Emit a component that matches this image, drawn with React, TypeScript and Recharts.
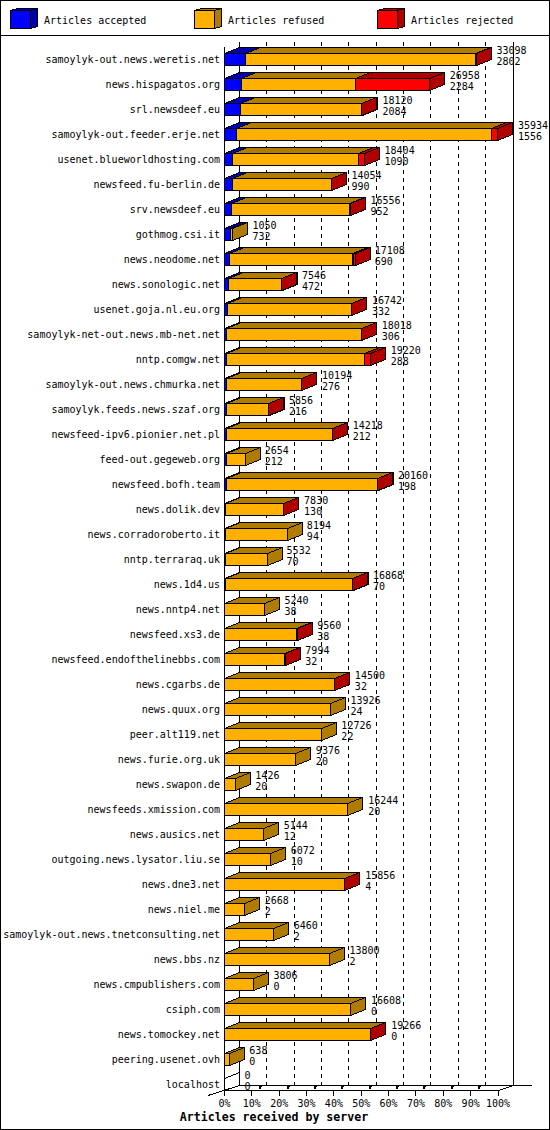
import { BarChart, Bar, XAxis, YAxis, CartesianGrid, LabelList } from "recharts";

const SERVERS = [
  "samoylyk-out.news.weretis.net", "news.hispagatos.org", "srl.newsdeef.eu", "samoylyk-out.feeder.erje.net",
  "usenet.blueworldhosting.com", "newsfeed.fu-berlin.de", "srv.newsdeef.eu", "gothmog.csi.it",
  "news.neodome.net", "news.sonologic.net", "usenet.goja.nl.eu.org", "samoylyk-net-out.news.mb-net.net",
  "nntp.comgw.net", "samoylyk-out.news.chmurka.net", "samoylyk.feeds.news.szaf.org", "newsfeed-ipv6.pionier.net.pl",
  "feed-out.gegeweb.org", "newsfeed.bofh.team", "news.dolik.dev", "news.corradoroberto.it",
  "nntp.terraraq.uk", "news.1d4.us", "news.nntp4.net", "newsfeed.xs3.de",
  "newsfeed.endofthelinebbs.com", "news.cgarbs.de", "news.quux.org", "peer.alt119.net",
  "news.furie.org.uk", "news.swapon.de", "newsfeeds.xmission.com", "news.ausics.net",
  "outgoing.news.lysator.liu.se", "news.dne3.net", "news.niel.me", "samoylyk-out.news.tnetconsulting.net",
  "news.bbs.nz", "news.cmpublishers.com", "csiph.com", "news.tomockey.net",
  "peering.usenet.ovh", "localhost",
];
const TOTALS = [
  33098, 26958, 18120, 35934, 18404, 14054, 16556, 1050, 17108, 7546, 16742, 18018, 19220, 10194,
  5856, 14218, 2654, 20160, 7830, 8194, 5532, 16868, 5240, 9560, 7994, 14500, 13926, 12726,
  9376, 1426, 16244, 5144, 6072, 15856, 2668, 6460, 13800, 3806, 16608, 19266, 638, 0,
];
const ACCEPTED = [
  2802, 2284, 2084, 1556, 1090, 990, 952, 732, 690, 472, 332, 306, 288, 276,
  216, 212, 212, 198, 130, 94, 70, 70, 38, 38, 32, 32, 24, 22,
  20, 20, 20, 12, 10, 4, 2, 2, 2, 0, 0, 0, 0, 0,
];
const REJECTED = [
  100, 9720, 60, 830, 790, 40, 100, 0, 200, 30, 60, 40, 830, 30,
  30, 30, 0, 30, 30, 0, 0, 30, 0, 30, 30, 30, 0, 0,
  0, 0, 0, 0, 0, 30, 0, 0, 0, 0, 0, 30, 0, 0,
];
const PERCENT_TICKS = [0, 10, 20, 30, 40, 50, 60, 70, 80, 90, 100];
const LEGEND_LABELS = ["Articles accepted", "Articles refused", "Articles rejected"];
const LEGEND_X = [10, 194, 377];

const MAX_TOTAL = 35934;
const FONT = "'DejaVu Sans Mono', 'Liberation Mono', monospace";
const BLUE = ["#0000ff", "#0000b0"];
const ORANGE = ["#ffb000", "#b07c00"];
const RED = ["#ff0000", "#b00000"];
const LEGEND_COLORS = [BLUE, ORANGE, RED];

const DEPTH_X = 15;
const DEPTH_Y = 6;
const FLOOR_Y = 1090.5;
const BACK_Y = 1085.5;
const TOP_Y = 42;

const rows = SERVERS.map((server, i) => ({
  server,
  total: TOTALS[i],
  accepted: ACCEPTED[i],
  refused: TOTALS[i] - ACCEPTED[i] - REJECTED[i],
  rejected: REJECTED[i],
}));

const Box3d = ({ x, y, w, h, colors, dx = DEPTH_X, dy = DEPTH_Y }: any) => (
  <g stroke="#000" strokeWidth={1} shapeRendering="crispEdges">
    <polygon points={`${x},${y} ${x + w},${y} ${x + w + dx},${y - dy} ${x + dx},${y - dy}`} fill={colors[1]} />
    <polygon points={`${x + w},${y} ${x + w + dx},${y - dy} ${x + w + dx},${y + h - dy} ${x + w},${y + h}`} fill={colors[1]} />
    <rect x={x} y={y} width={w} height={h} fill={colors[0]} />
  </g>
);

const segment = (colors: string[], keepEmpty = false) => (props: any) => {
  const x = Math.floor(props.x) + 0.5;
  const y = Math.floor(props.y) + 0.5;
  const w = Math.round(props.width);
  const h = Math.round(props.height);
  if (!props.width) {
    if (!keepEmpty) return null;
    // a server with no articles only leaves its wireframe on the wall
    return (
      <g stroke="#000" shapeRendering="crispEdges">
        <line x1={x} y1={y} x2={x + DEPTH_X} y2={y - DEPTH_Y} />
      </g>
    );
  }
  return <Box3d x={x} y={y} w={w} h={h} colors={colors} />;
};

const ValueLabel = (dy: number) => (props: any) => (
  <text
    x={props.x + props.width + DEPTH_X + 5}
    y={props.y + dy}
    fontFamily={FONT}
    fontSize={10}
    fill="#000"
    dominantBaseline="central"
  >
    {props.value}
  </text>
);

const GridLine = (props: any) => (
  <line
    x1={props.x1 + DEPTH_X}
    x2={props.x2 + DEPTH_X}
    y1={TOP_Y}
    y2={BACK_Y}
    stroke="#000"
    strokeDasharray={props.index === 0 || props.index === PERCENT_TICKS.length - 1 ? undefined : "4 4"}
    shapeRendering="crispEdges"
  />
);

const PercentTick = ({ x, payload, index }: any) => {
  const px = Math.floor(x) + 0.5;
  const inner = index > 0 && index < PERCENT_TICKS.length - 1;
  return (
    <g>
      <line x1={px} x2={px} y1={FLOOR_Y} y2={FLOOR_Y + 5} stroke="#000" shapeRendering="crispEdges" />
      {inner && (
        <polygon
          points={`${px + 7},${FLOOR_Y - 1.5} ${px + 8},${FLOOR_Y - 4.5} ${px + 10.5},${FLOOR_Y - 4.5} ${px + 9.5},${FLOOR_Y - 1.5}`}
          fill="#000"
          shapeRendering="crispEdges"
        />
      )}
      <text x={x} y={1103} textAnchor="middle" dominantBaseline="central" fontFamily={FONT} fontSize={10} fill="#000">
        {Math.round((payload.value / MAX_TOTAL) * 100)}%
      </text>
    </g>
  );
};

const crisp = { stroke: "#000", shapeRendering: "crispEdges" as const };

export default function App() {
  return (
    <div style={{ position: "absolute", left: 0, top: 0, width: 550, height: 1130, background: "#fff" }}>
      <BarChart
        width={550}
        height={1130}
        data={rows}
        layout="vertical"
        barSize={12}
        margin={{ top: 46.5, right: 52, bottom: 3.5, left: 0 }}
      >
        <CartesianGrid horizontal={false} vertical={GridLine} syncWithTicks />
        <XAxis
          type="number"
          domain={[0, MAX_TOTAL]}
          ticks={PERCENT_TICKS.map((p) => (p / 100) * MAX_TOTAL)}
          height={30}
          axisLine={false}
          tickLine={false}
          interval={0}
          tick={PercentTick}
        />
        <YAxis
          type="category"
          dataKey="server"
          width={224.5}
          interval={0}
          axisLine={false}
          tickLine={false}
          tickSize={0}
          tickMargin={4.5}
          tick={{ fontFamily: FONT, fontSize: 10, fill: "#000" }}
        />

        {/* walls and floor */}
        <line x1={224.5} x2={224.5} y1={47} y2={FLOOR_Y} {...crisp} />
        <line x1={239.5} x2={239.5} y1={TOP_Y} y2={BACK_Y} {...crisp} />
        <line x1={513.5} x2={513.5} y1={TOP_Y} y2={BACK_Y} {...crisp} />
        <line x1={224.5} x2={498.5} y1={FLOOR_Y} y2={FLOOR_Y} {...crisp} />
        <line x1={239.5} x2={532} y1={BACK_Y} y2={BACK_Y} {...crisp} />
        <line x1={208} x2={239.5} y1={1095.5} y2={BACK_Y} {...crisp} />
        <line x1={498.5} x2={513.5} y1={FLOOR_Y} y2={BACK_Y} {...crisp} />

        <Bar dataKey="accepted" stackId="a" name={LEGEND_LABELS[0]} fill={BLUE[0]} isAnimationActive={false} shape={segment(BLUE)} />
        <Bar dataKey="refused" stackId="a" name={LEGEND_LABELS[1]} fill={ORANGE[0]} isAnimationActive={false} shape={segment(ORANGE, true)} />
        <Bar dataKey="rejected" stackId="a" name={LEGEND_LABELS[2]} fill={RED[0]} isAnimationActive={false} shape={segment(RED)}>
          <LabelList dataKey="total" content={ValueLabel(-3)} />
          <LabelList dataKey="accepted" content={ValueLabel(7.5)} />
        </Bar>

        {/* page frame and legend band */}
        <rect x={0.5} y={0.5} width={549} height={1129} fill="none" {...crisp} />
        <line x1={0} x2={550} y1={35.5} y2={35.5} {...crisp} />
        {LEGEND_LABELS.map((label, i) => (
          <g key={label}>
            <Box3d x={LEGEND_X[i] + 0.5} y={10.5} w={20} h={18} colors={LEGEND_COLORS[i]} dx={7} dy={2} />
            <text x={LEGEND_X[i] + 34} y={20} dominantBaseline="central" fontFamily={FONT} fontSize={10} fill="#000">
              {label}
            </text>
          </g>
        ))}
        <text x={274} y={1117} textAnchor="middle" dominantBaseline="central" fontFamily={FONT} fontSize={11.6} fontWeight="bold" fill="#000">
          Articles received by server
        </text>
      </BarChart>
    </div>
  );
}
